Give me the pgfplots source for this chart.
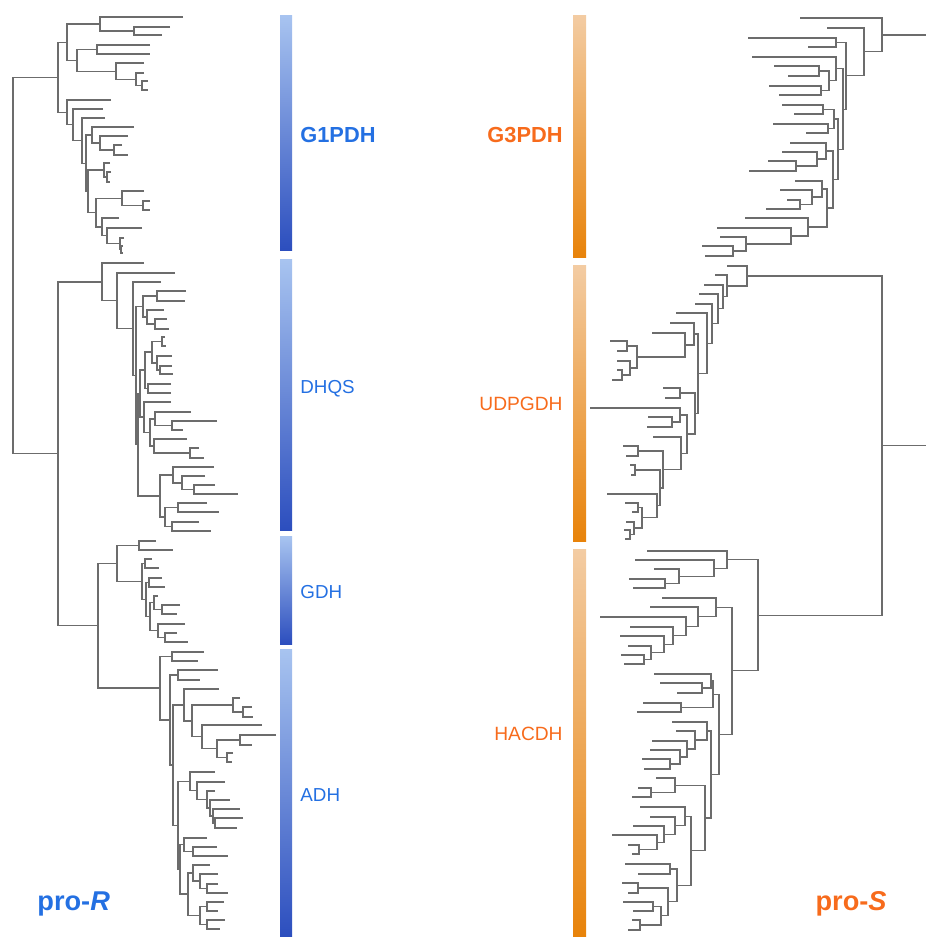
\documentclass[border=0pt]{standalone}
\usepackage{pgfplots}
\pgfplotsset{compat=1.18}
\usepackage{fontspec}
\setmainfont{Liberation Sans}
\definecolor{treegray}{RGB}{108,108,108}
\definecolor{bluetop}{RGB}{168,196,240}
\definecolor{bluebot}{RGB}{44,78,190}
\definecolor{orgtop}{RGB}{243,204,163}
\definecolor{orgbot}{RGB}{232,131,10}
\definecolor{lblblue}{RGB}{36,112,226}
\definecolor{lblorg}{RGB}{247,107,28}
\begin{document}
\begin{tikzpicture}
\begin{axis}[
  scale only axis, width=463pt, height=468.5pt,
  xmin=0, xmax=926, ymin=0, ymax=937, y dir=reverse,
  hide axis, clip=false, unbounded coords=jump]
\path (rel axis cs:0,0) rectangle (rel axis cs:1,1);
% ---------------- blue bars ----------------
\addplot[draw=none, top color=bluetop, bottom color=bluebot] coordinates {(280,15) (292,15) (292,250) (280,250)} -- cycle;
\addplot[draw=none, top color=bluetop, bottom color=bluebot] coordinates {(280,259) (292,259) (292,530) (280,530)} -- cycle;
\addplot[draw=none, top color=bluetop, bottom color=bluebot] coordinates {(280,536) (292,536) (292,644) (280,644)} -- cycle;
\addplot[draw=none, top color=bluetop, bottom color=bluebot] coordinates {(280,649) (292,649) (292,937) (280,937)} -- cycle;
% ---------------- orange bars ----------------
\addplot[draw=none, top color=orgtop, bottom color=orgbot] coordinates {(573,15) (586,15) (586,257) (573,257)} -- cycle;
\addplot[draw=none, top color=orgtop, bottom color=orgbot] coordinates {(573,265) (586,265) (586,541) (573,541)} -- cycle;
\addplot[draw=none, top color=orgtop, bottom color=orgbot] coordinates {(573,549) (586,549) (586,937) (573,937)} -- cycle;
% ---------------- left tree (pro-R) ----------------
\addplot[treegray, line width=0.55pt, no markers] coordinates {
(58,77.3) (13,77.3) (13,453.9) (58,453.9) (nan,nan)
(67,42.2) (58,42.2) (58,112.4) (67,112.4) (nan,nan)
(100,24) (67,24) (67,60.3) (77,60.3) (nan,nan)
(183,17) (100,17) (100,31) (134,31) (nan,nan)
(170,27) (134,27) (134,35) (162,35) (nan,nan)
(97,49.5) (77,49.5) (77,71.1) (116,71.1) (nan,nan)
(150,45) (97,45) (97,54) (150,54) (nan,nan)
(144,63) (116,63) (116,79.25) (136,79.25) (nan,nan)
(144,73) (136,73) (136,85.5) (142,85.5) (nan,nan)
(148,81) (142,81) (142,90) (148,90) (nan,nan)
(111,100) (67,100) (67,124.8) (73,124.8) (nan,nan)
(103,109) (73,109) (73,140.6) (82,140.6) (nan,nan)
(105,118) (82,118) (82,163.2) (86,163.2) (nan,nan)
(92,135) (86,135) (86,191.3) (88,191.3) (nan,nan)
(134,127) (92,127) (92,143) (100,143) (nan,nan)
(128,136) (100,136) (100,150) (114,150) (nan,nan)
(122,145) (114,145) (114,155) (128,155) (nan,nan)
(104,170) (88,170) (88,212.6) (96,212.6) (nan,nan)
(110,163) (104,163) (104,177) (107,177) (nan,nan)
(111,172) (107,172) (107,182) (110,182) (nan,nan)
(122,198.25) (96,198.25) (96,227) (102,227) (nan,nan)
(144,191) (122,191) (122,205.5) (143,205.5) (nan,nan)
(150,201) (143,201) (143,210) (150,210) (nan,nan)
(119,218) (102,218) (102,235.9) (107,235.9) (nan,nan)
(142,228) (107,228) (107,243.75) (120,243.75) (nan,nan)
(124,238) (120,238) (120,249.5) (121,249.5) (nan,nan)
(123,246) (121,246) (121,253) (123,253) (nan,nan)
(102,282) (58,282) (58,625.75) (98,625.75) (nan,nan)
(144,263) (102,263) (102,300.9) (117,300.9) (nan,nan)
(175,273) (117,273) (117,328.8) (133,328.8) (nan,nan)
(161,282) (133,282) (133,375.6) (136,375.6) (nan,nan)
(143,306.5) (136,306.5) (136,444.75) (138,444.75) (nan,nan)
(157,296) (143,296) (143,317) (147,317) (nan,nan)
(186,291) (157,291) (157,301) (185,301) (nan,nan)
(164,310) (147,310) (147,324) (155,324) (nan,nan)
(167,319) (155,319) (155,329) (169,329) (nan,nan)
(140,393.5) (138,393.5) (138,496) (160,496) (nan,nan)
(145,370) (140,370) (140,417) (144,417) (nan,nan)
(152,352) (145,352) (145,388.5) (148,388.5) (nan,nan)
(162,341.5) (152,341.5) (152,363) (157,363) (nan,nan)
(165,337) (162,337) (162,346) (166,346) (nan,nan)
(172,356) (157,356) (157,370) (160,370) (nan,nan)
(172,366) (160,366) (160,374) (173,374) (nan,nan)
(171,384) (148,384) (148,393) (171,393) (nan,nan)
(171,402) (144,402) (144,432.5) (150,432.5) (nan,nan)
(155,419) (150,419) (150,446) (154,446) (nan,nan)
(191,412) (155,412) (155,425.5) (172,425.5) (nan,nan)
(217,421) (172,421) (172,430) (183,430) (nan,nan)
(187,439) (154,439) (154,453) (190,453) (nan,nan)
(199,448) (190,448) (190,458) (204,458) (nan,nan)
(173,475) (160,475) (160,517) (165,517) (nan,nan)
(214,467) (173,467) (173,483) (182,483) (nan,nan)
(205,476) (182,476) (182,489.5) (194,489.5) (nan,nan)
(215,485) (194,485) (194,494) (238,494) (nan,nan)
(178,507.5) (165,507.5) (165,526.5) (172,526.5) (nan,nan)
(207,503) (178,503) (178,512) (219,512) (nan,nan)
(199,522) (172,522) (172,531) (211,531) (nan,nan)
(117,563.5) (98,563.5) (98,688) (160,688) (nan,nan)
(139,545.5) (117,545.5) (117,581.5) (142,581.5) (nan,nan)
(156,541) (139,541) (139,550) (173,550) (nan,nan)
(145,563.5) (142,563.5) (142,599.6) (146,599.6) (nan,nan)
(152,559) (145,559) (145,568) (159,568) (nan,nan)
(149,582.5) (146,582.5) (146,616.75) (150,616.75) (nan,nan)
(162,578) (149,578) (149,587) (165,587) (nan,nan)
(154,602.75) (150,602.75) (150,630.75) (158,630.75) (nan,nan)
(158,596) (154,596) (154,609.5) (162,609.5) (nan,nan)
(180,605) (162,605) (162,614) (177,614) (nan,nan)
(185,624) (158,624) (158,637.5) (165,637.5) (nan,nan)
(177,633) (165,633) (165,642) (188,642) (nan,nan)
(172,656.5) (160,656.5) (160,720) (170,720) (nan,nan)
(204,652) (172,652) (172,661) (198,661) (nan,nan)
(178,675) (170,675) (170,765) (173,765) (nan,nan)
(218,670) (178,670) (178,680) (200,680) (nan,nan)
(184,705) (173,705) (173,825.2) (178,825.2) (nan,nan)
(219,689) (184,689) (184,721) (192,721) (nan,nan)
(233,705) (192,705) (192,736.9) (202,736.9) (nan,nan)
(240,698) (233,698) (233,712) (243,712) (nan,nan)
(252,707) (243,707) (243,717) (253,717) (nan,nan)
(262,725) (202,725) (202,748.75) (217,748.75) (nan,nan)
(240,740) (217,740) (217,757.5) (227,757.5) (nan,nan)
(276,735) (240,735) (240,745) (252,745) (nan,nan)
(233,753) (227,753) (227,762) (232,762) (nan,nan)
(190,781.4) (178,781.4) (178,869.4) (180,869.4) (nan,nan)
(215,772) (190,772) (190,790.75) (197,790.75) (nan,nan)
(225,782) (197,782) (197,799.5) (207,799.5) (nan,nan)
(215,791) (207,791) (207,808) (210,808) (nan,nan)
(230,800) (210,800) (210,816) (213,816) (nan,nan)
(240,809) (213,809) (213,823) (215,823) (nan,nan)
(243,818) (215,818) (215,828) (237,828) (nan,nan)
(184,844.75) (180,844.75) (180,894) (188,894) (nan,nan)
(207,838) (184,838) (184,851.5) (193,851.5) (nan,nan)
(217,847) (193,847) (193,856) (228,856) (nan,nan)
(193,873) (188,873) (188,915.5) (200,915.5) (nan,nan)
(210,865) (193,865) (193,881) (200,881) (nan,nan)
(218,874) (200,874) (200,888.5) (207,888.5) (nan,nan)
(218,884) (207,884) (207,893) (228,893) (nan,nan)
(207,906.5) (200,906.5) (200,924.5) (207,924.5) (nan,nan)
(224,902) (207,902) (207,911) (218,911) (nan,nan)
(225,920) (207,920) (207,929) (220,929)
};
% ---------------- right tree (pro-S) ----------------
\addplot[treegray, line width=0.55pt, no markers] coordinates {
(882,34.95) (926,34.95) (nan,nan)
(800,18) (882,18) (882,51.9) (864,51.9) (nan,nan)
(827,28) (864,28) (864,75.8) (846,75.8) (nan,nan)
(836,42.5) (846,42.5) (846,109.1) (843,109.1) (nan,nan)
(748,38) (836,38) (836,47) (808,47) (nan,nan)
(836,68.9) (843,68.9) (843,149.25) (838,149.25) (nan,nan)
(752,57) (836,57) (836,80.75) (829,80.75) (nan,nan)
(819,71) (829,71) (829,90.5) (821,90.5) (nan,nan)
(774,66) (819,66) (819,76) (788,76) (nan,nan)
(769,86) (821,86) (821,95) (779,95) (nan,nan)
(834,119) (838,119) (838,179.5) (833,179.5) (nan,nan)
(823,109.5) (834,109.5) (834,128.5) (828,128.5) (nan,nan)
(782,105) (823,105) (823,114) (794,114) (nan,nan)
(773,124) (828,124) (828,133) (806,133) (nan,nan)
(826,151) (833,151) (833,208) (827,208) (nan,nan)
(790,143) (826,143) (826,159) (817,159) (nan,nan)
(782,152) (817,152) (817,166) (796,166) (nan,nan)
(768,161) (796,161) (796,171) (749,171) (nan,nan)
(822,189) (827,189) (827,227) (808,227) (nan,nan)
(795,181) (822,181) (822,197) (812,197) (nan,nan)
(780,190) (812,190) (812,204.5) (800,204.5) (nan,nan)
(787,200) (800,200) (800,209) (766,209) (nan,nan)
(745,218) (808,218) (808,236) (791,236) (nan,nan)
(717,228) (791,228) (791,244) (746,244) (nan,nan)
(720,237) (746,237) (746,251) (733,251) (nan,nan)
(702,246) (733,246) (733,256) (705,256) (nan,nan)
(882,445.6) (926,445.6) (nan,nan)
(747,276) (882,276) (882,615.2) (758,615.2) (nan,nan)
(727,266) (747,266) (747,286) (727,286) (nan,nan)
(715,275) (727,275) (727,296.9) (723,296.9) (nan,nan)
(704,285) (723,285) (723,308.8) (718,308.8) (nan,nan)
(699,294) (718,294) (718,323.7) (712,323.7) (nan,nan)
(695,304) (712,304) (712,343.4) (707,343.4) (nan,nan)
(676,313) (707,313) (707,373.75) (698,373.75) (nan,nan)
(694,334) (698,334) (698,413.5) (695,413.5) (nan,nan)
(670,323) (694,323) (694,345) (685,345) (nan,nan)
(652,333) (685,333) (685,357) (637,357) (nan,nan)
(627,346) (637,346) (637,368) (630,368) (nan,nan)
(610,341) (627,341) (627,351) (617,351) (nan,nan)
(617,361) (630,361) (630,375) (622,375) (nan,nan)
(617,370) (622,370) (622,380) (612,380) (nan,nan)
(680,393) (695,393) (695,434) (687,434) (nan,nan)
(663,388) (680,388) (680,398) (665,398) (nan,nan)
(680,415) (687,415) (687,453.25) (681,453.25) (nan,nan)
(590,408) (680,408) (680,422) (672,422) (nan,nan)
(648,417) (672,417) (672,427) (647,427) (nan,nan)
(653,437) (681,437) (681,469.5) (663,469.5) (nan,nan)
(638,451) (663,451) (663,488) (660,488) (nan,nan)
(623,446) (638,446) (638,456) (626,456) (nan,nan)
(635,470) (660,470) (660,505.9) (657,505.9) (nan,nan)
(630,465) (635,465) (635,475) (631,475) (nan,nan)
(607,494) (657,494) (657,517.75) (642,517.75) (nan,nan)
(638,507.5) (642,507.5) (642,528) (634,528) (nan,nan)
(625,503) (638,503) (638,512) (632,512) (nan,nan)
(626,522) (634,522) (634,534.5) (630,534.5) (nan,nan)
(624,530) (630,530) (630,539) (625,539) (nan,nan)
(727,559.6) (758,559.6) (758,670.8) (732,670.8) (nan,nan)
(647,551) (727,551) (727,568.1) (714,568.1) (nan,nan)
(635,560) (714,560) (714,576.25) (679,576.25) (nan,nan)
(654,569) (679,569) (679,583.5) (665,583.5) (nan,nan)
(629,579) (665,579) (665,588) (633,588) (nan,nan)
(716,607.3) (732,607.3) (732,734.25) (719,734.25) (nan,nan)
(662,598) (716,598) (716,616.7) (698,616.7) (nan,nan)
(650,607) (698,607) (698,626.35) (686,626.35) (nan,nan)
(600,617) (686,617) (686,635.7) (673,635.7) (nan,nan)
(630,627) (673,627) (673,644.4) (664,644.4) (nan,nan)
(620,636) (664,636) (664,652.75) (651,652.75) (nan,nan)
(628,646) (651,646) (651,659.5) (644,659.5) (nan,nan)
(621,655) (644,655) (644,664) (624,664) (nan,nan)
(713,694.25) (719,694.25) (719,774.5) (711,774.5) (nan,nan)
(711,681) (713,681) (713,707.5) (681,707.5) (nan,nan)
(654,674) (711,674) (711,688) (702,688) (nan,nan)
(660,683) (702,683) (702,693) (677,693) (nan,nan)
(643,703) (681,703) (681,712) (637,712) (nan,nan)
(707,731) (711,731) (711,818) (705,818) (nan,nan)
(672,722) (707,722) (707,740) (695,740) (nan,nan)
(676,731) (695,731) (695,749) (687,749) (nan,nan)
(652,741) (687,741) (687,757) (680,757) (nan,nan)
(650,750) (680,750) (680,764) (670,764) (nan,nan)
(642,759) (670,759) (670,769) (644,769) (nan,nan)
(675,785.25) (705,785.25) (705,850.9) (691,850.9) (nan,nan)
(656,778) (675,778) (675,792.5) (651,792.5) (nan,nan)
(638,788) (651,788) (651,797) (632,797) (nan,nan)
(685,816.3) (691,816.3) (691,885.4) (677,885.4) (nan,nan)
(640,807) (685,807) (685,825.6) (675,825.6) (nan,nan)
(650,817) (675,817) (675,834.1) (664,834.1) (nan,nan)
(633,826) (664,826) (664,842.25) (657,842.25) (nan,nan)
(612,835) (657,835) (657,849.5) (639,849.5) (nan,nan)
(628,845) (639,845) (639,854) (632,854) (nan,nan)
(670,869) (677,869) (677,901.9) (668,901.9) (nan,nan)
(625,864) (670,864) (670,874) (638,874) (nan,nan)
(638,888) (668,888) (668,915.75) (661,915.75) (nan,nan)
(622,883) (638,883) (638,893) (628,893) (nan,nan)
(653,906.5) (661,906.5) (661,925) (640,925) (nan,nan)
(623,902) (653,902) (653,911) (633,911) (nan,nan)
(632,920) (640,920) (640,930) (628,930)
};
% ---------------- labels ----------------
\node[anchor=west, inner sep=0pt, text=lblblue, font=\fontsize{10.9pt}{12pt}\selectfont\bfseries] at (axis cs:300,135) {G1PDH};
\node[anchor=west, inner sep=0pt, text=lblblue, font=\fontsize{9.4pt}{11pt}\selectfont] at (axis cs:300,389) {DHQS};
\node[anchor=west, inner sep=0pt, text=lblblue, font=\fontsize{9.4pt}{11pt}\selectfont] at (axis cs:300,592) {GDH};
\node[anchor=west, inner sep=0pt, text=lblblue, font=\fontsize{9.4pt}{11pt}\selectfont] at (axis cs:300,795) {ADH};
\node[anchor=east, inner sep=0pt, text=lblorg, font=\fontsize{10.9pt}{12pt}\selectfont\bfseries] at (axis cs:563,135) {G3PDH};
\node[anchor=east, inner sep=0pt, text=lblorg, font=\fontsize{9.6pt}{11pt}\selectfont] at (axis cs:563,404) {UDPGDH};
\node[anchor=east, inner sep=0pt, text=lblorg, font=\fontsize{9.6pt}{11pt}\selectfont] at (axis cs:563,734) {HACDH};
\node[anchor=west, inner sep=0pt, text=lblblue, font=\fontsize{13.6pt}{15pt}\selectfont\bfseries] at (axis cs:37,904) {pro-\textit{R}};
\node[anchor=east, inner sep=0pt, text=lblorg, font=\fontsize{13.6pt}{15pt}\selectfont\bfseries] at (axis cs:887,904) {pro-\textit{S}};
\end{axis}
\end{tikzpicture}
\end{document}
